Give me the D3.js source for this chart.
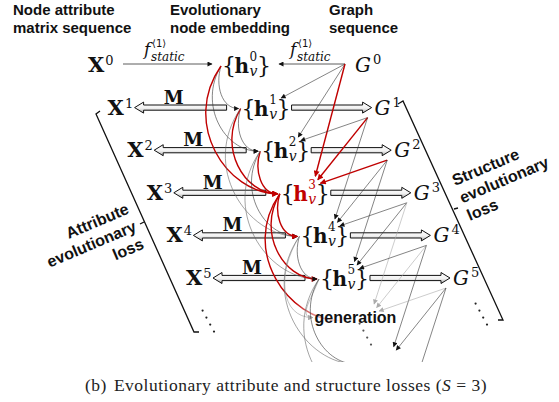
<!DOCTYPE html>
<html>
<head>
<meta charset="utf-8">
<script src="https://cdn.jsdelivr.net/npm/d3@7"></script>
<style>
  body { margin: 0; background: #fff; }
  svg { display: block; }
  .hdr { font: bold 15px "Liberation Sans", Arial, sans-serif; fill: #111; }
  .loss { font: bold 16px "Liberation Sans", Arial, sans-serif; fill: #111; }
  .math { font-family: "DejaVu Serif", serif; }
  .cap { font: 17.5px "Liberation Serif", serif; fill: #222; letter-spacing: 0.5px; }
</style>
</head>
<body>
<script>
// time steps drawn, window size S, the highlighted step and the "generation" step
var steps = [0, 1, 2, 3, 4, 5];
var S = 3;
var focusStep = 3;
var genStep = 6;

var headers = [["Node attribute", "matrix sequence"], ["Evolutionary", "node embedding"], ["Graph", "sequence"]];
var headerX = [13, 170, 329];
var attrLoss = ["Attribute", "evolutionary", "loss"];
var structLoss = ["Structure", "evolutionary", "loss"];

var width = 559, height = 402;
var red = "#c00000";

// each step moves down and a little to the right
var rowY = d3.scaleLinear().domain([0, 5]).range([65, 278]);
var colX = d3.scaleLinear().domain([0, 5]).range([88, 186]);
var colH = d3.scaleLinear().domain([0, 5]).range([222, 320]);
var colG = d3.scaleLinear().domain([0, 5]).range([355, 453]);

var svg = d3.select("body").append("svg")
    .attr("width", width)
    .attr("height", height);
var defs = svg.append("defs");

function marker(id, color, w, h) {
    defs.append("marker").attr("id", id)
	.attr("viewBox", "0 0 10 10").attr("refX", 9).attr("refY", 5)
	.attr("markerWidth", w).attr("markerHeight", h)
	.attr("markerUnits", "userSpaceOnUse")
	.attr("orient", "auto")
	.append("path").attr("d", "M0,0L10,5L0,10z").attr("fill", color);
}
marker("ar-black", "#111", 7, 5);
marker("ar-red", red, 8, 6);
marker("ar-gray", "#aaa", 7, 5);

var grad = defs.append("linearGradient").attr("id", "bar")
    .attr("x1", 0).attr("y1", 0).attr("x2", 0).attr("y2", 1);
grad.append("stop").attr("offset", 0).attr("stop-color", "#fff");
grad.append("stop").attr("offset", 0.55).attr("stop-color", "#f2f2f2");
grad.append("stop").attr("offset", 1).attr("stop-color", "#a8a8a8");

var fade = defs.append("linearGradient").attr("id", "fade")
    .attr("gradientUnits", "userSpaceOnUse")
    .attr("x1", colH(genStep) - 45).attr("y1", 0).attr("x2", colH(genStep)).attr("y2", 0);
fade.append("stop").attr("offset", 0).attr("stop-color", red);
fade.append("stop").attr("offset", 1).attr("stop-color", "#f4c0c0").attr("stop-opacity", 0.3);

defs.append("clipPath").attr("id", "clip")
    .append("rect").attr("x", 0).attr("y", 0).attr("width", width).attr("height", 362);

var gBars = svg.append("g");
var gLinks = svg.append("g").attr("clip-path", "url(#clip)").attr("fill", "none");
var gLab = svg.append("g").attr("fill", "#111");

// headers
headers.forEach(function(lines, i) {
    lines.forEach(function(s, l) {
	gLab.append("text").attr("class", "hdr")
	    .attr("x", headerX[i]).attr("y", 15 + l * 18).text(s);
    });
});

// X^t
steps.forEach(function(t) {
    var x = colX(t), y = rowY(t);
    var b = gLab.append("text").attr("class", "math")
	.attr("x", x).attr("y", y + 7)
	.attr("font-size", 21).attr("font-weight", "bold").text("X");
    var w = b.node().getComputedTextLength();
    gLab.append("text").attr("class", "math")
	.attr("x", x + w + 1).attr("y", y)
	.attr("font-size", 13).text(t);
});

// {h_v^t}
var hWidth = [];
steps.forEach(function(t) {
    var c = t === focusStep ? red : "#111";
    var g = gLab.append("g").attr("transform", "translate(" + colH(t) + "," + rowY(t) + ")");
    var b1 = g.append("text").attr("class", "math").attr("y", 8).attr("font-size", 22).text("{");
    var x1 = b1.node().getComputedTextLength() - 1.5;
    var h = g.append("text").attr("class", "math").attr("x", x1).attr("y", 8)
	.attr("font-size", 20).attr("font-weight", "bold").attr("fill", c).text("h");
    var x2 = x1 + h.node().getComputedTextLength() + 0.5;
    var sp = g.append("text").attr("class", "math").attr("x", x2).attr("y", -4)
	.attr("font-size", 12).attr("fill", c).text(t);
    var sb = g.append("text").attr("class", "math").attr("x", x2).attr("y", 11)
	.attr("font-size", 14).attr("font-style", "italic").attr("fill", c).text("v");
    var x3 = x2 + Math.max(sp.node().getComputedTextLength(), sb.node().getComputedTextLength()) - 0.5;
    var b2 = g.append("text").attr("class", "math").attr("x", x3).attr("y", 8).attr("font-size", 22).text("}");
    hWidth[t] = x3 + b2.node().getComputedTextLength();
});

// G^t
steps.forEach(function(t) {
    var x = colG(t), y = rowY(t);
    var b = gLab.append("text").attr("class", "math")
	.attr("x", x).attr("y", y + 7)
	.attr("font-size", 20).attr("font-style", "italic").text("G");
    var w = b.node().getComputedTextLength();
    gLab.append("text").attr("class", "math")
	.attr("x", x + w + 2).attr("y", y - 1)
	.attr("font-size", 13).text(t);
});

// f_static labels and arrows at step 0
function fLabel(x) {
    gLab.append("text").attr("class", "math").attr("x", x).attr("y", 55)
	.attr("font-size", 17).attr("font-style", "italic").text("f");
    gLab.append("text").attr("x", x + 8).attr("y", 47)
	.attr("font-family", "DejaVu Sans, sans-serif").attr("font-size", 10).text("\u27E81\u27E9");
    gLab.append("text").attr("class", "math").attr("x", x + 7).attr("y", 61)
	.attr("font-size", 12).attr("font-style", "italic").text("static");
}
fLabel(144);
fLabel(290);
gLinks.append("line")
    .attr("x1", colX(0) + 35).attr("y1", rowY(0) - 1)
    .attr("x2", colH(0) - 10).attr("y2", rowY(0) - 1)
    .attr("stroke", "#333").attr("stroke-width", 0.8).attr("marker-end", "url(#ar-black)");
gLinks.append("line")
    .attr("x1", colG(0) - 10).attr("y1", rowY(0) - 1)
    .attr("x2", colH(0) + hWidth[0] + 8).attr("y2", rowY(0) - 1)
    .attr("stroke", "#333").attr("stroke-width", 0.8).attr("marker-end", "url(#ar-black)");

// hollow double arrows
function hollow(x1, x2, y) {
    var dir = x2 > x1 ? 1 : -1;
    var hl = 9, bh = 2.6, hh = 5.5;
    var n = x2 - dir * hl;
    gBars.append("path")
	.attr("d", "M" + x1 + "," + (y - bh) + "L" + n + "," + (y - bh) + "L" + n + "," + (y - hh) +
	      "L" + x2 + "," + y + "L" + n + "," + (y + hh) + "L" + n + "," + (y + bh) +
	      "L" + x1 + "," + (y + bh) + "Z")
	.attr("fill", "url(#bar)").attr("stroke", "#111").attr("stroke-width", 1);
}
steps.filter(function(t) { return t > 0; }).forEach(function(t) {
    var y = rowY(t);
    var tip = colX(t) + 27, tail = colH(t) - 15;
    hollow(tail, tip, y);
    gLab.append("text").attr("class", "math")
	.attr("x", (tip + tail) / 2 - 7).attr("y", y - 4)
	.attr("text-anchor", "middle").attr("font-size", 18).attr("font-weight", "bold").text("M");
    hollow(colH(t) + hWidth[t] + 1, colG(t) - 3, y);
});

// edges inside the window of S steps
var edges = [];
steps.forEach(function(t) {
    for (var k = 1; k <= S; k++) edges.push({from: t, to: t + k, k: k});
});

function hy(j) { return rowY(j); }
function hx(j) { return colH(j); }

// graph -> embedding arrows
edges.forEach(function(e) {
    var x0 = e.from === 0 ? colG(0) - 10 : colG(e.from) - 7;
    var y0 = e.from === 0 ? rowY(0) - 1 : rowY(e.from) + 10;
    var x1 = hx(e.to) + 42 - 2.5 * e.k, y1 = hy(e.to) - 6 - 3.5 * e.k;
    var col = e.to === focusStep ? red : e.to === genStep ? "#aaa" : "#333";
    var mk = e.to === focusStep ? "ar-red" : e.to === genStep ? "ar-gray" : "ar-black";
    gLinks.append("line")
	.attr("x1", x0).attr("y1", y0).attr("x2", x1).attr("y2", y1)
	.attr("stroke", col).attr("stroke-width", e.to === focusStep ? 1.4 : 0.6)
	.attr("marker-end", "url(#" + mk + ")");
});

// embedding -> embedding curves
edges.forEach(function(e) {
    var x0 = hx(e.from) - 1, y0 = hy(e.from) + 1;
    var x1, y1;
    var isRed = e.to === focusStep || e.from === focusStep;
    if (e.to === genStep) {
	x1 = isRed ? hx(genStep) : hx(genStep) - 27;
	y1 = hy(genStep) - (isRed ? 0 : 3);
    } else {
	x1 = hx(e.to) - 3; y1 = hy(e.to) + 1;
    }
    var dy = y1 - y0, b = 6 + 17 * (e.k - 1);
    var d = "M" + x0 + "," + y0 + "C" + (x0 - b) + "," + (y0 + 0.45 * dy) + " " +
	(x1 - 0.4 * dy) + "," + y1 + " " + x1 + "," + y1;
    var p = gLinks.append("path").attr("d", d);
    if (isRed) {
	p.attr("stroke", e.to === genStep ? "url(#fade)" : red).attr("stroke-width", 1.4);
	if (e.to !== genStep) p.attr("marker-end", "url(#ar-red)");
    } else if (e.to === genStep) {
	p.attr("stroke", "#999").attr("stroke-width", 0.6).attr("marker-end", "url(#ar-gray)");
    } else {
	p.attr("stroke", e.k === 3 ? "#666" : "#333").attr("stroke-width", 0.6);
	if (e.to <= 5) p.attr("marker-end", "url(#ar-black)");
    }
});

// "generation" label at the next step
gLab.append("text").attr("class", "loss")
    .attr("x", hx(genStep) - 25).attr("y", hy(genStep) + 2).text("generation");

// vertical ellipses below the last row
function dots(x, y, col) {
    [0, 1, 2, 3].forEach(function(i) {
	gLab.append("circle").attr("cx", x + i * 3.8).attr("cy", y + i * 7).attr("r", 1.1).attr("fill", col);
    });
}
dots(colX(genStep) - 3, rowY(genStep) - 10, "#222");
dots(hx(genStep) + 20, rowY(genStep) + 3, "#555");
dots(colG(genStep) + 3, rowY(genStep) - 17, "#222");

// loss brackets
var br = svg.append("g").attr("fill", "none").attr("stroke", "#111").attr("stroke-width", 1.3);
br.append("path").attr("d", "M100,111L96,114L194,332L199,332");
br.append("path").attr("d", "M144,222L140,224");
br.append("path").attr("d", "M398,104L403,101L503,320L498,320");
br.append("path").attr("d", "M454,209L458,208");

var la = gLab.append("g").attr("transform", "translate(130,213) rotate(-23)");
attrLoss.forEach(function(s, i) {
    la.append("text").attr("class", "loss").attr("text-anchor", "end")
	.attr("x", 0).attr("y", i * 19).text(s);
});
var ra = gLab.append("g").attr("transform", "translate(455,186) rotate(-23)");
structLoss.forEach(function(s, i) {
    ra.append("text").attr("class", "loss")
	.attr("x", 0).attr("y", i * 19).text(s);
});

// caption
var cap = svg.append("text").attr("class", "cap").attr("x", 85).attr("y", 391);
cap.append("tspan").text("(b)");
cap.append("tspan").attr("dx", 7).text("Evolutionary attribute and structure losses (");
cap.append("tspan").attr("font-style", "italic").text("S");
cap.append("tspan").text(" = 3)");
</script>
</body>
</html>
